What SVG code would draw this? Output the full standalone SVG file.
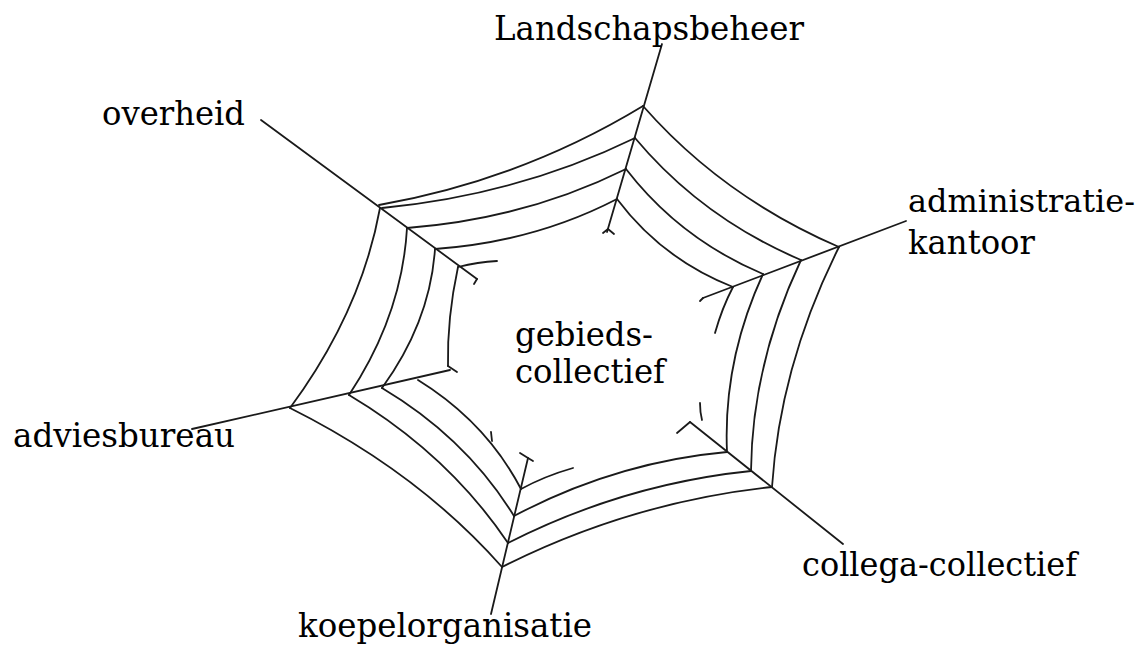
<svg xmlns="http://www.w3.org/2000/svg" width="1147" height="648" viewBox="0 0 1147 648">
<style>
.w{fill:none;stroke:#1a1a1a;stroke-width:1.8;stroke-linecap:round;stroke-linejoin:round}
.t{font-family:"DejaVu Serif","Liberation Serif",serif;font-size:34px;fill:#000}
</style>
<rect width="1147" height="648" fill="#fff"/>
<g id="connectors" class="w">
<!-- spokes -->
<path id="spoke-top" d="M662,44 L607,232"/>
<path id="spoke-overheid" d="M261,120 L477,279"/>
<path id="spoke-admin" d="M906,221 L703,298"/>
<path id="spoke-collega" d="M843,544 L690,422"/>
<path id="spoke-koepel" d="M491,614 L528,458"/>
<path id="spoke-advies" d="M192,429 Q330,398 450,370"/>
<!-- top-left side -->
<path d="M643,106 Q521,180 379,205"/>
<path d="M635,138 Q518,195 382,208"/>
<path d="M626,169 Q525,219 407,228"/>
<path d="M617,199 Q534,242 435,249"/>
<path d="M458,267 Q478,262 497,261"/>
<!-- top-right side -->
<path d="M643,106 Q723,197 839,247"/>
<path d="M635,138 Q702,218 801,260"/>
<path d="M626,169 Q680,239 763,274"/>
<path d="M617,199 Q662,259 733,287"/>
<!-- right side -->
<path d="M839,247 Q780,365 772,487"/>
<path d="M801,260 Q752,364 751,471"/>
<path d="M763,274 Q723,361 727,452"/>
<path d="M733,287 Q722,308 715,333"/>
<path d="M700,403 Q700,412 702,420"/>
<!-- bottom side -->
<path d="M772,487 Q631,502 502,567"/>
<path d="M751,471 Q624,484 508,543"/>
<path d="M727,452 Q616,462 514,516"/>
<path d="M521,489 Q545,476 573,468"/>
<!-- bottom-left side -->
<path d="M502,567 Q418,472 290,408"/>
<path d="M508,543 Q448,454 349,395"/>
<path d="M514,516 Q466,438 382,388"/>
<path d="M521,489 Q486,422 418,380"/>
<!-- left side -->
<path d="M290,408 Q361,312 380,208"/>
<path d="M349,395 Q402,315 407,228"/>
<path d="M382,388 Q430,322 435,249"/>
<path d="M458,267 Q447,318 448,366"/>
<!-- inner fragments -->
<path d="M603,233 L608,229 L614,234"/>
<path d="M477,279 L474,284"/>
<path d="M703,298 L700,301"/>
<path d="M690,422 L677,433"/>
<path d="M528,458 L520,453 M528,458 L533,461"/>
<path d="M491,432 L492,441"/>
<path d="M448,366 L457,372"/>
</g>
<g id="node-landschapsbeheer"><text class="t" x="494" y="40" textLength="310" lengthAdjust="spacingAndGlyphs">Landschapsbeheer</text></g>
<g id="node-overheid"><text class="t" x="102" y="125" textLength="143" lengthAdjust="spacingAndGlyphs">overheid</text></g>
<g id="node-administratiekantoor"><text class="t" x="908" y="212" font-size="32" style="font-size:32px" textLength="227" lengthAdjust="spacingAndGlyphs">administratie-</text><text class="t" x="908" y="254" textLength="127" lengthAdjust="spacingAndGlyphs">kantoor</text></g>
<g id="node-adviesbureau"><text class="t" x="13" y="447" textLength="222" lengthAdjust="spacingAndGlyphs">adviesbureau</text></g>
<g id="node-collega"><text class="t" x="802" y="576" textLength="275" lengthAdjust="spacingAndGlyphs">collega-collectief</text></g>
<g id="node-koepel"><text class="t" x="298" y="637" textLength="294" lengthAdjust="spacingAndGlyphs">koepelorganisatie</text></g>
<g id="node-gebiedscollectief"><text class="t" x="515" y="346" textLength="138" lengthAdjust="spacingAndGlyphs">gebieds-</text><text class="t" x="515" y="383" textLength="150" lengthAdjust="spacingAndGlyphs">collectief</text></g>
</svg>
